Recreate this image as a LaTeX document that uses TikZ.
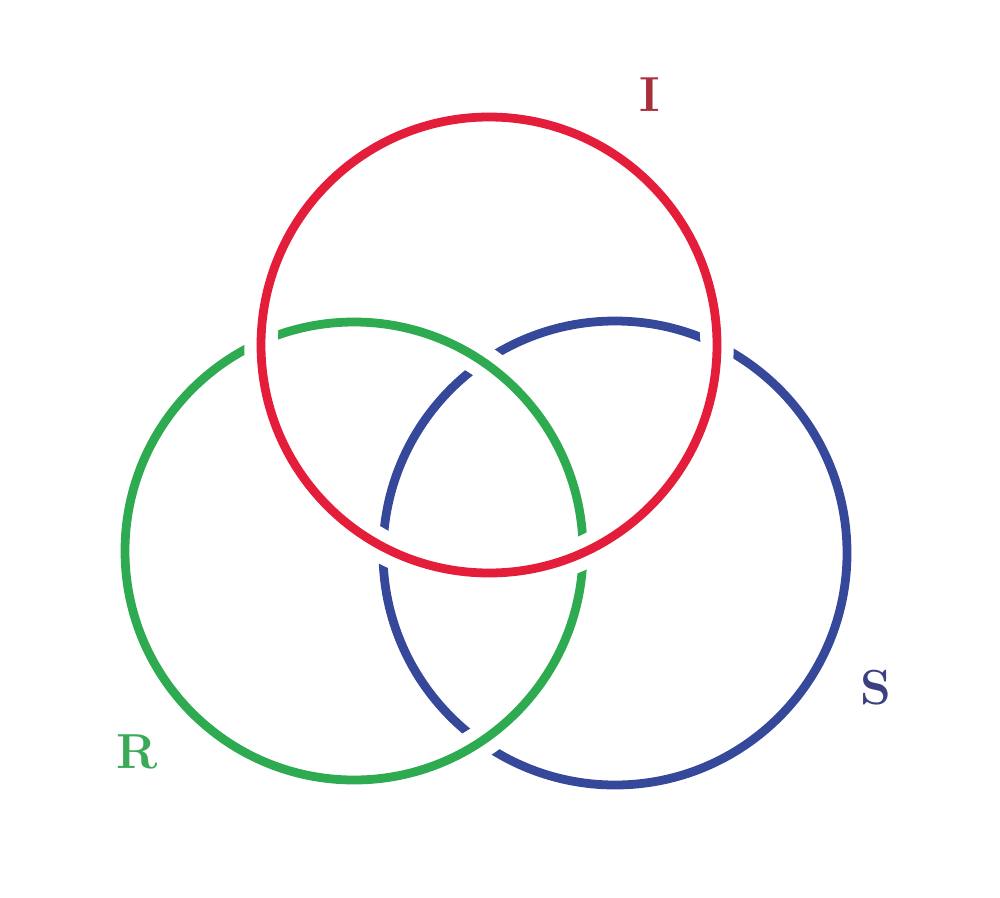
\documentclass[tikz,border=0pt]{standalone}
\usepackage{tikz}
\usepackage{xcolor}
\usetikzlibrary{positioning}
\definecolor{RI}{HTML}{E31D3A}
\definecolor{GR}{HTML}{2EAA50}
\definecolor{BS}{HTML}{35489A}
\definecolor{LI}{HTML}{A8303C}
\definecolor{LR}{HTML}{3AAA58}
\definecolor{LS}{HTML}{3C4080}

\begin{document}
\begin{tikzpicture}[
    ring/.style={line width=2.5pt},
    gapring/.style={line width=9.5pt, white},
    lbl/.style={font=\fontsize{14}{14}\selectfont\bfseries}
  ]
        \useasboundingbox (0,0) rectangle (10,8.97);
        \coordinate (cI) at (4.89,5.52);
        \coordinate (cR) at (3.54,3.46);
        \coordinate (cS) at (6.15,3.44);
        %% blue ring at the bottom
        \draw[ring, BS] (cS) circle (2.32);
        %% green ring over blue
        \draw[gapring] (cR) circle (2.29);
        \draw[ring, GR] (cR) circle (2.29);
        %% red ring over both
        \draw[gapring] (cI) circle (2.28);
        \draw[ring, RI] (cI) circle (2.28);
        %% labels
        \node[lbl, color=LI] (labI) at (6.50,8.02) {I};
        \node[lbl, color=LR] (labR) at (1.37,1.45) {R};
        \node[lbl, color=LS] (labS) at (8.76,2.09) {S};
      \end{tikzpicture}
\end{document}
